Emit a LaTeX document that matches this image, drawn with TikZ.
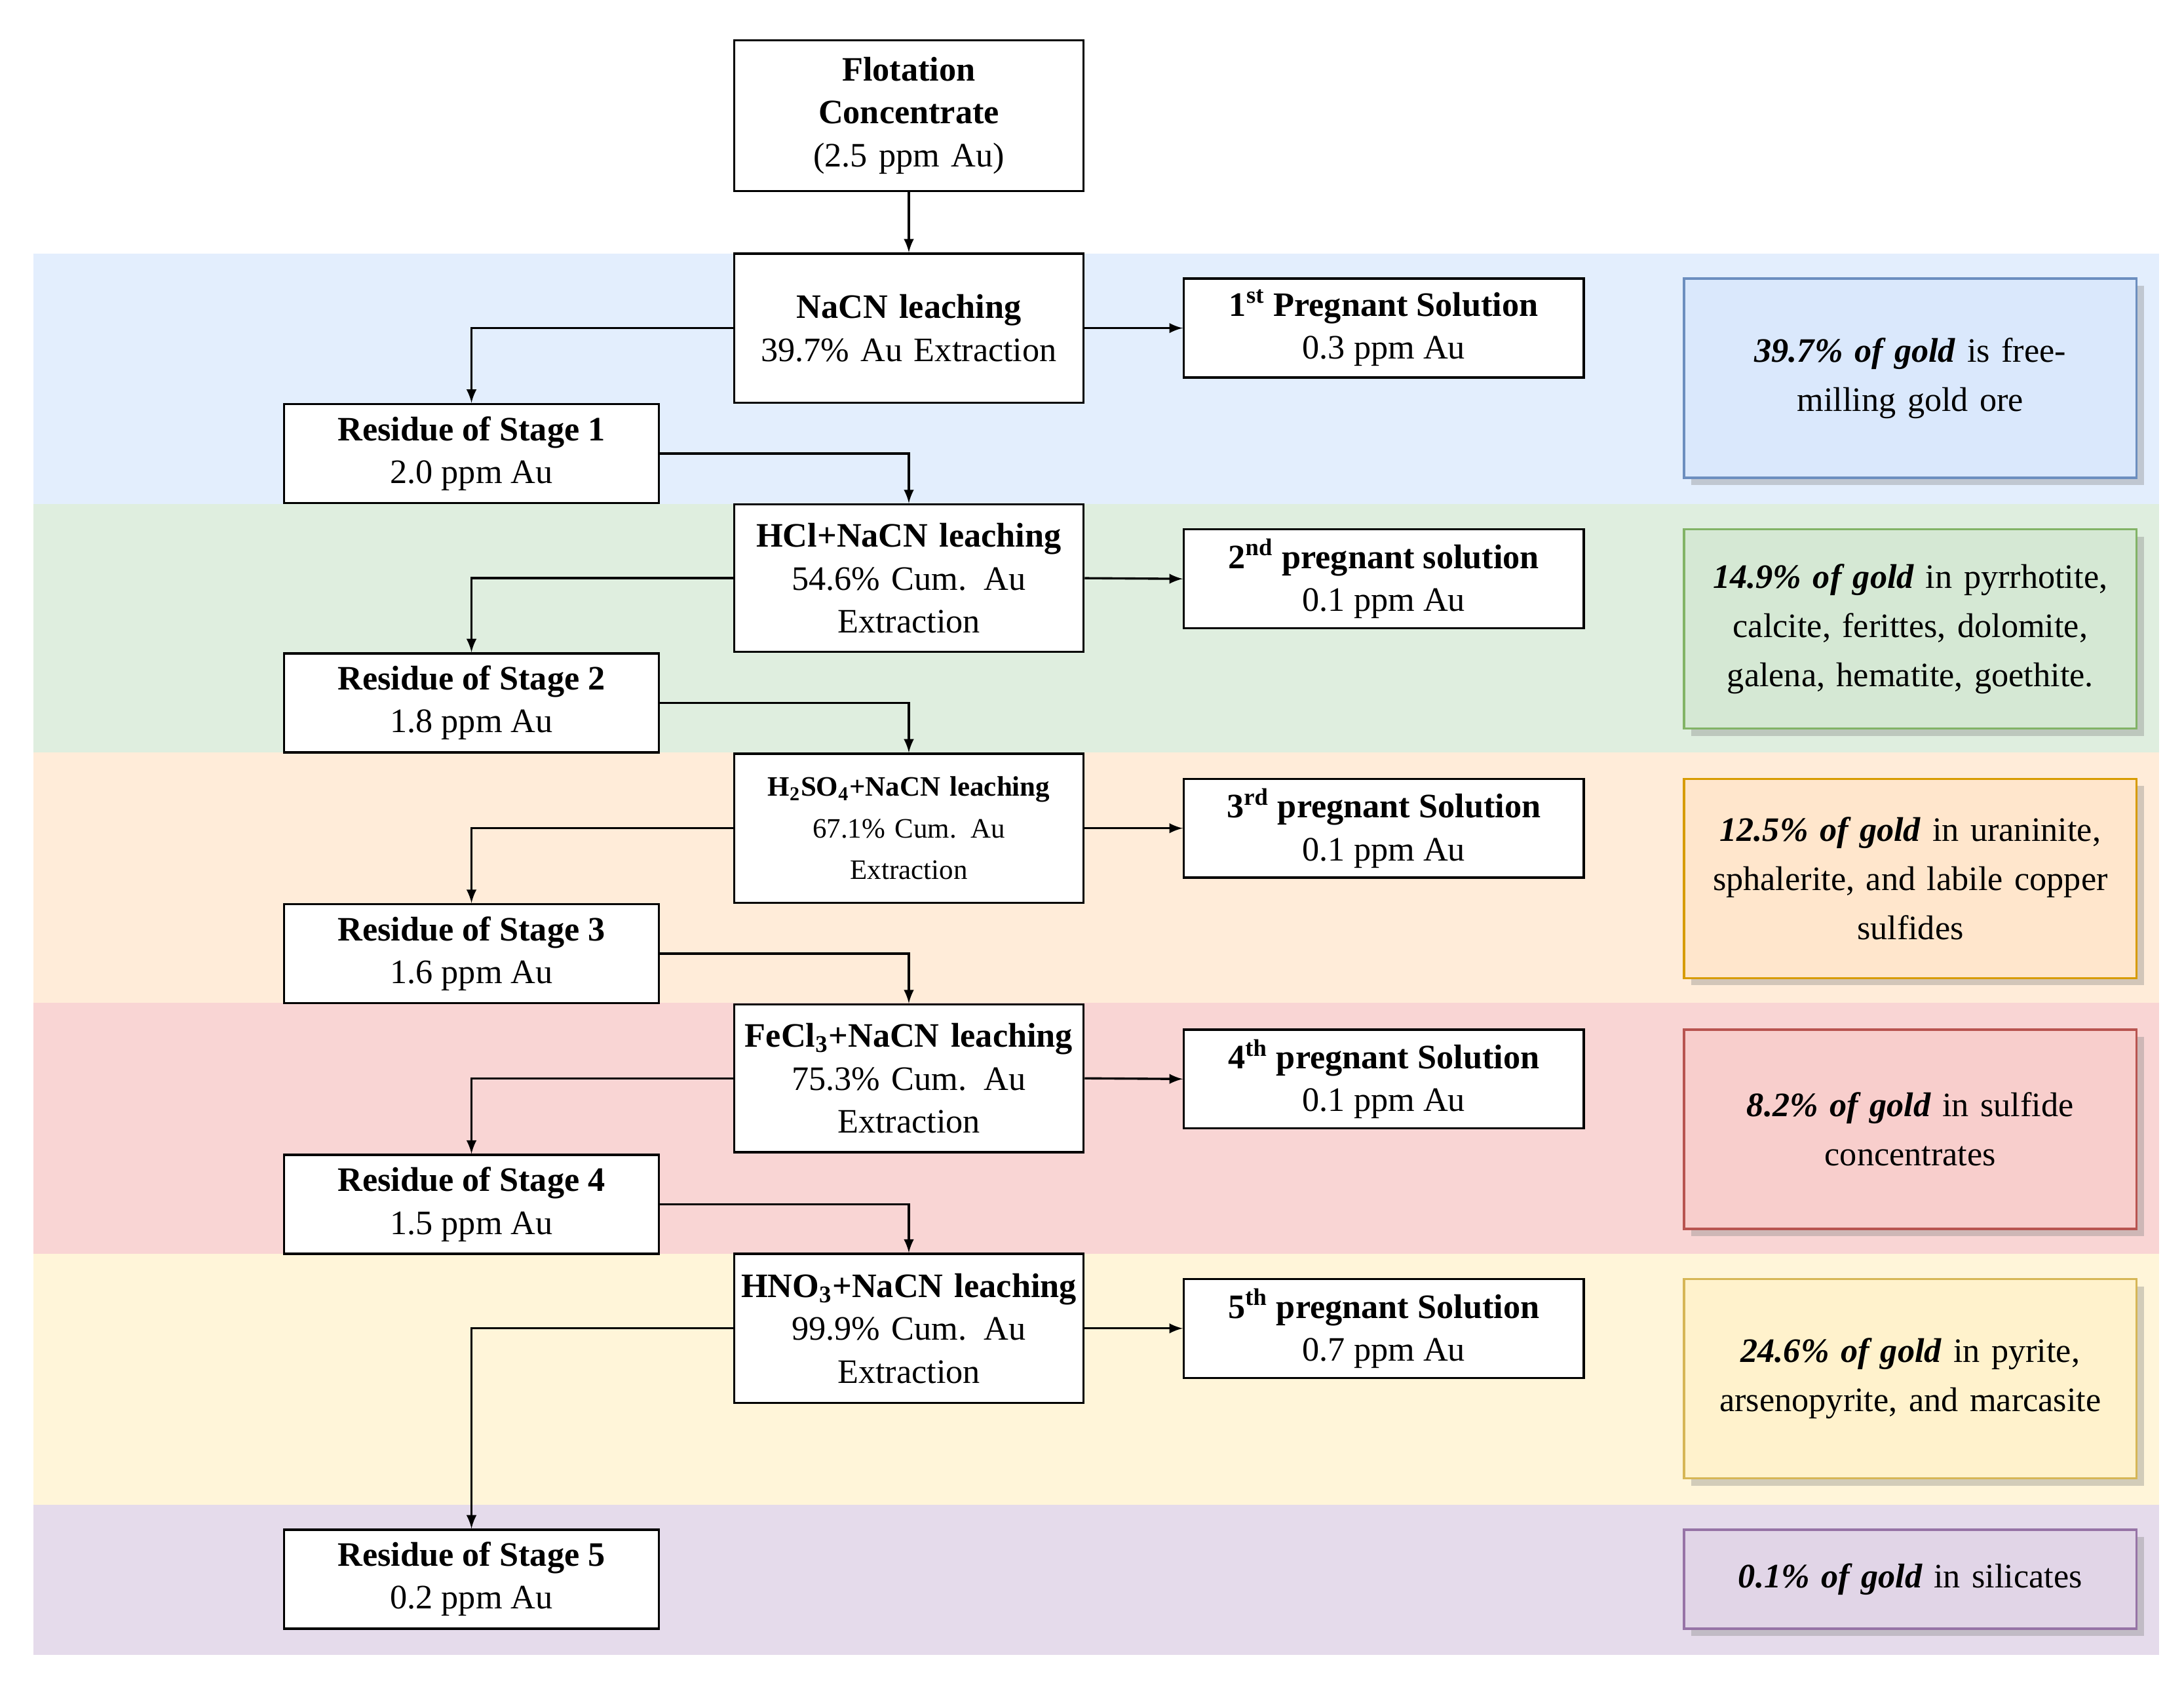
\documentclass[tikz,border=0pt]{standalone}
\usepackage{fontspec}
\setmainfont{Liberation Serif}
\usetikzlibrary{shadows}
\definecolor{bB}{HTML}{DAE8FC}\definecolor{sB}{HTML}{6C8EBF}
\definecolor{bG}{HTML}{D5E8D4}\definecolor{sG}{HTML}{82B366}
\definecolor{bO}{HTML}{FFE6CC}\definecolor{sO}{HTML}{D79B00}
\definecolor{bR}{HTML}{F8CECC}\definecolor{sR}{HTML}{B85450}
\definecolor{bY}{HTML}{FFF2CC}\definecolor{sY}{HTML}{D6B656}
\definecolor{bP}{HTML}{E1D5E7}\definecolor{sP}{HTML}{9673A6}
\begin{document}
\begin{tikzpicture}[x=0.02cm,y=-0.02cm,
 box/.style={draw=black,fill=white,line width=0.9pt,align=center,inner sep=1pt,font=\fontsize{14}{17.5}\selectfont},
 ctr/.style={box,minimum width=251*0.02cm,minimum height=107*0.02cm,text width=245*0.02cm},
 res/.style={box,minimum width=269*0.02cm,minimum height=71*0.02cm},
 prg/.style={box,minimum width=287*0.02cm,minimum height=71*0.02cm},
 note/.style={draw=#1,fill=#1!25!white,line width=0.9pt,align=center,inner sep=2pt,minimum width=323*0.02cm,text width=318*0.02cm,minimum height=143*0.02cm,font=\fontsize{14}{20}\selectfont,drop shadow={opacity=0.35,shadow xshift=3pt,shadow yshift=-3pt}},
 arr/.style={-latex,line width=0.9pt}]
\useasboundingbox (0,0) rectangle (1568,1212);
\fill[bB!75!white] (24,182) rectangle (1550,362);
\fill[bG!75!white] (24,362) rectangle (1550,540);
\fill[bO!75!white] (24,540) rectangle (1550,720);
\fill[bR!85!white] (24,720) rectangle (1550,900);
\fill[bY!75!white] (24,900) rectangle (1550,1080);
\fill[bP!85!white] (24,1080) rectangle (1550,1188);
\node[ctr,minimum height=108*0.02cm] (top) at (652.5,83) {\textbf{Flotation}\\\textbf{Concentrate}\\(2.5 ppm Au)};
\node[ctr] (c1) at (652.5,235.5) {\textbf{NaCN leaching}\\39.7\% Au Extraction};
\node[ctr,minimum height=106*0.02cm] (c2) at (652.5,415) {\textbf{HCl+NaCN leaching}\\54.6\% Cum. Au\\Extraction};
\node[ctr,font=\fontsize{11.5}{17}\selectfont] (c3) at (652.5,594.5) {\textbf{H\textsubscript{2}SO\textsubscript{4}+NaCN leaching}\\67.1\% Cum. Au\\Extraction};
\node[ctr,minimum height=106*0.02cm] (c4) at (652.5,774) {\textbf{FeCl\textsubscript{3}+NaCN leaching}\\75.3\% Cum. Au\\Extraction};
\node[ctr] (c5) at (652.5,953.5) {\textbf{HNO\textsubscript{3}+NaCN leaching}\\99.9\% Cum. Au\\Extraction};
\node[res] (r1) at (338.5,325.5) {\textbf{Residue of Stage 1}\\2.0 ppm Au};
\node[res] (r2) at (338.5,504.5) {\textbf{Residue of Stage 2}\\1.8 ppm Au};
\node[res] (r3) at (338.5,684.5) {\textbf{Residue of Stage 3}\\1.6 ppm Au};
\node[res] (r4) at (338.5,864.5) {\textbf{Residue of Stage 4}\\1.5 ppm Au};
\node[res] (r5) at (338.5,1133.5) {\textbf{Residue of Stage 5}\\0.2 ppm Au};
\node[prg] (p1) at (993.5,235.5) {\textbf{1\textsuperscript{st} Pregnant Solution}\\0.3 ppm Au};
\node[prg] (p2) at (993.5,415.5) {\textbf{2\textsuperscript{nd} pregnant solution}\\0.1 ppm Au};
\node[prg] (p3) at (993.5,594.5) {\textbf{3\textsuperscript{rd} pregnant Solution}\\0.1 ppm Au};
\node[prg] (p4) at (993.5,774.5) {\textbf{4\textsuperscript{th} pregnant Solution}\\0.1 ppm Au};
\node[prg] (p5) at (993.5,953.5) {\textbf{5\textsuperscript{th} pregnant Solution}\\0.7 ppm Au};
\node[note=sB,fill=bB] (n1) at (1371.5,271.5) {\textbf{\textit{39.7\% of gold}} is free-\\milling gold ore};
\node[note=sG,fill=bG] (n2) at (1371.5,451.5) {\textbf{\textit{14.9\% of gold}} in pyrrhotite,\\calcite, ferittes, dolomite,\\galena, hematite, goethite.};
\node[note=sO,fill=bO] (n3) at (1371.5,630.5) {\textbf{\textit{12.5\% of gold}} in uraninite,\\sphalerite, and labile copper\\sulfides};
\node[note=sR,fill=bR] (n4) at (1371.5,810.5) {\textbf{\textit{8.2\% of gold}} in sulfide\\concentrates};
\node[note=sY,fill=bY] (n5) at (1371.5,989.5) {\textbf{\textit{24.6\% of gold}} in pyrite,\\arsenopyrite, and marcasite};
\node[note=sP,fill=bP,minimum height=71*0.02cm] (n6) at (1371.5,1133.5) {\textbf{\textit{0.1\% of gold}} in silicates};
\draw[arr] (top) -- (c1);
\foreach \i in {1,...,5}{
 \draw[arr] (c\i.west) -| (r\i.north);
 \draw[arr] (c\i.east) -- (p\i.west);}
\draw[arr] (r1.east) -| (c2.north);
\draw[arr] (r2.east) -| (c3.north);
\draw[arr] (r3.east) -| (c4.north);
\draw[arr] (r4.east) -| (c5.north);
\end{tikzpicture}
\end{document}
